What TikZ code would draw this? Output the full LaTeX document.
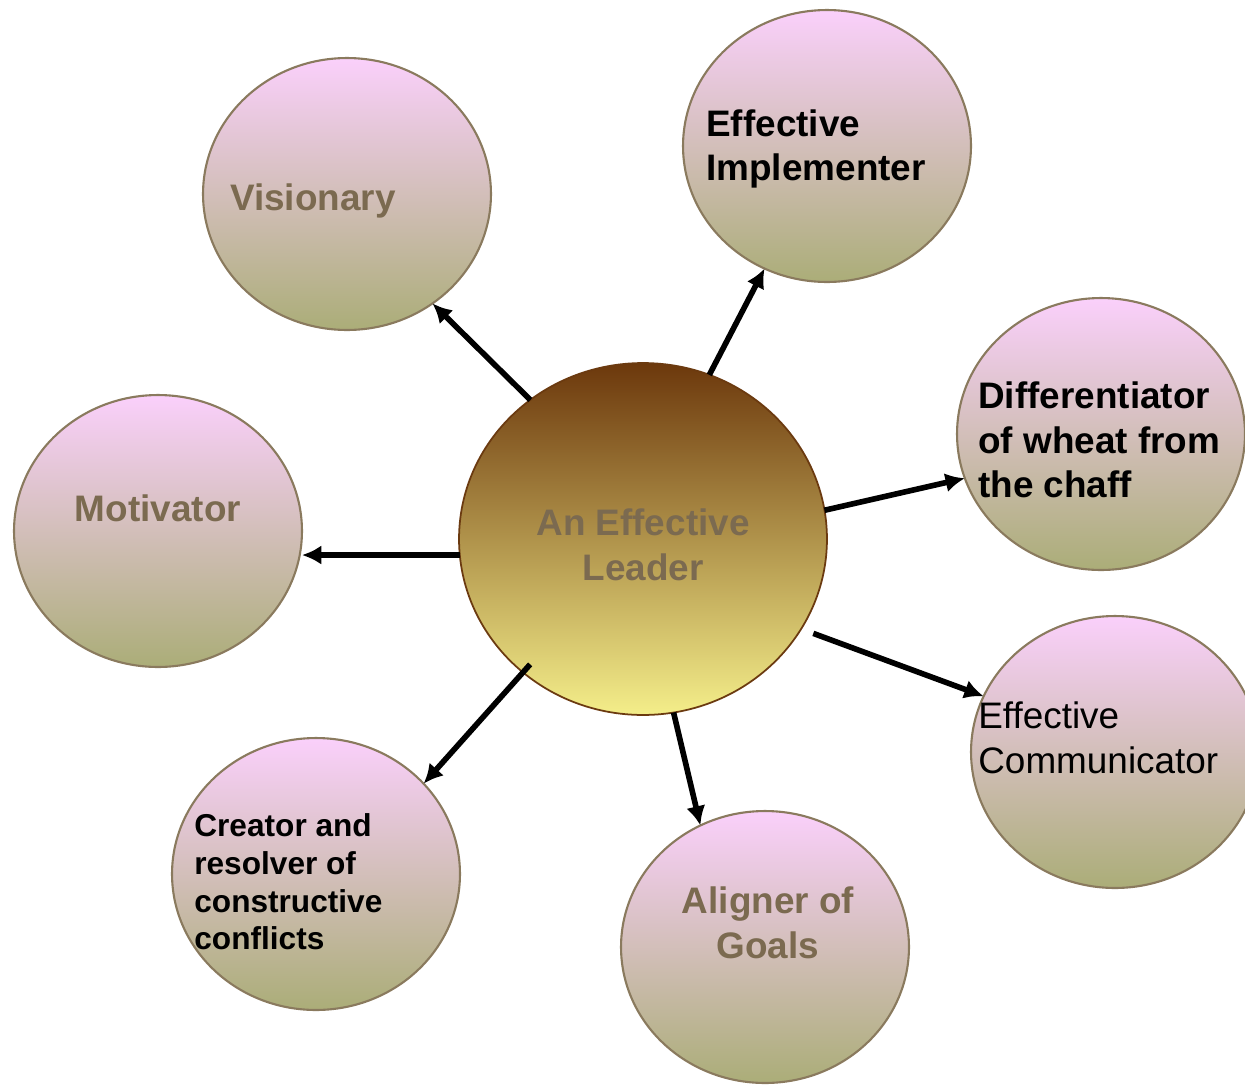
\documentclass[tikz,border=0pt]{standalone}
\usepackage{fontspec}
\setmainfont{Liberation Sans}
\usetikzlibrary{shapes.geometric,arrows.meta,calc}
\definecolor{pinktop}{HTML}{FAD0FB}
\definecolor{olivebot}{HTML}{ABAD78}
\definecolor{ringline}{HTML}{8A7A5E}
\definecolor{browntop}{HTML}{6C380C}
\definecolor{brownmid}{HTML}{B5A160}
\definecolor{yellowbot}{HTML}{F4EE8A}
\definecolor{leadline}{HTML}{6B3A10}
\definecolor{graytext}{HTML}{7B6A50}
\tikzset{
  bubble/.style={ellipse, draw=ringline, line width=1.2pt, minimum width=5.76cm, minimum height=5.44cm, inner sep=0pt, outer sep=0pt, top color=pinktop, bottom color=olivebot},
  hub/.style={ellipse, draw=leadline, line width=1pt, minimum width=7.36cm, minimum height=7.04cm, inner sep=0pt, outer sep=0pt, top color=browntop, middle color=brownmid, bottom color=yellowbot},
  bigtxt/.style={inner sep=0pt, font=\fontsize{21}{25.5}\selectfont\bfseries},
  smalltxt/.style={inner sep=0pt, font=\fontsize{18}{21.5}\selectfont\bfseries},
  regtxt/.style={inner sep=0pt, font=\fontsize{21}{25.5}\selectfont},
  link/.style={line width=3.2pt, -{Latex[length=11pt,width=11pt]}}
}
\begin{document}
\begin{tikzpicture}[x=0.02cm,y=-0.02cm]
\useasboundingbox (0,0) rectangle (1245,1086);
\node[bubble] (vis) at (347,194) {};
\node[bubble] (imp) at (827,146) {};
\node[bubble] (dif) at (1101,434) {};
\node[bubble] (mot) at (158,531) {};
\node[bubble] (com) at (1115,752) {};
\node[bubble] (cre) at (316,874) {};
\node[bubble] (ali) at (765,947) {};
\node[hub] (lead) at (643,539) {};

\node[bigtxt, text=graytext] (tvis) at (313,201) {Visionary};
\node[bigtxt, anchor=west, align=left] (timp) at (706,149) {Effective\\Implementer};
\node[bigtxt, anchor=west, align=left] (tdif) at (978,440) {Differentiator\\of wheat from\\the chaff};
\node[bigtxt, text=graytext] (tmot) at (158,508) {Motivator};
\node[bigtxt, text=graytext, align=center] (tlead) at (643,545) {An Effective\\Leader};
\node[regtxt, anchor=west, align=left] (tcom) at (978,738) {Effective\\Communicator};
\node[bigtxt, text=graytext, align=center] (tali) at (768,923) {Aligner of\\Goals};
\node[smalltxt, anchor=west, align=left] (tcre) at (194,882) {Creator and\\resolver of\\constructive\\conflicts};

\draw[link] (lead.129.6) -- (vis.-52.3);
\draw[link] (lead.68.1) -- (imp.-117.7);
\draw[link] (lead.9.8) -- (dif.198.2);
\draw[link] (lead.185) -- (lead.185 -| mot.east);
\draw[link] ($(lead.center)!1.07!(lead.-29.6)$) -- (com.157);
\draw[link] (lead.-80.9) -- (ali.118.8);
\draw[link] ($(lead.center)!0.94!(lead.228.6)$) -- (cre.40.9);
\end{tikzpicture}
\end{document}
